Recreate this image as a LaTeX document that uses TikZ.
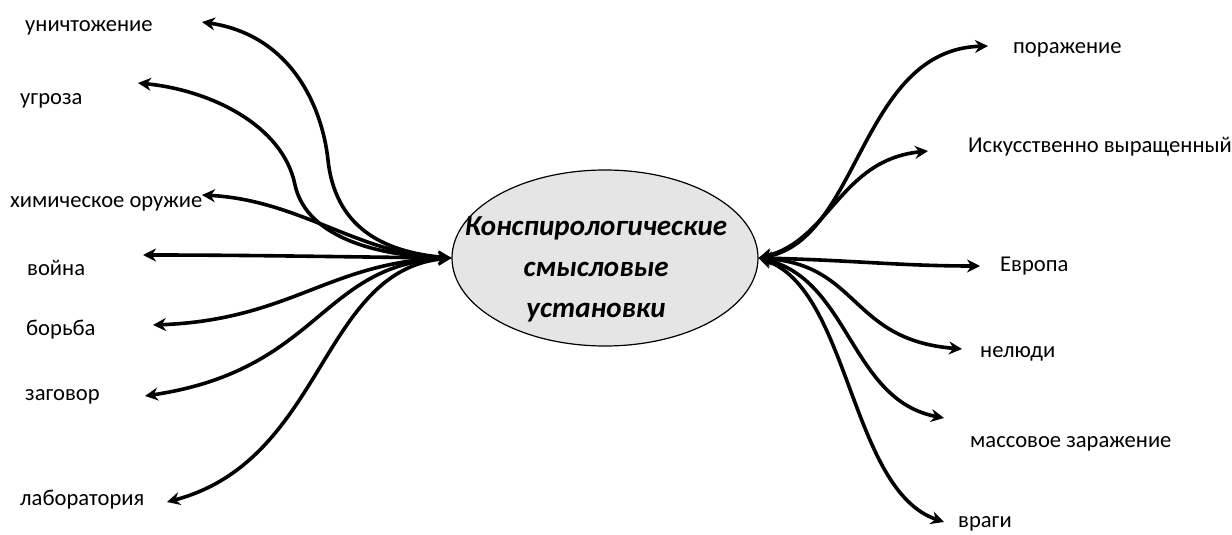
\documentclass[tikz,border=0pt]{standalone}
\usepackage{fontspec}
\setmainfont{Carlito}
\usetikzlibrary{arrows.meta,shapes.geometric}
\begin{document}
\begin{tikzpicture}[x=1pt,y=-1pt,
  lbl/.style={font=\fontsize{22.6}{26}\selectfont, inner sep=0pt, anchor=base west},
  link/.style={line width=3.6pt, {Stealth[length=13pt,width=13pt]}-{Stealth[length=13pt,width=13pt]}}]
\useasboundingbox (0,0) rectangle (1232,535);
\node[ellipse, draw, line width=1.2pt, fill=black!10, minimum width=306pt, minimum height=176pt, inner sep=0pt] (c) at (605,258) {};
\node[font=\fontsize{29}{41}\selectfont\bfseries\itshape, align=center, inner sep=0pt] (ct) at (596,269) {Конспирологические\\смысловые\\установки};
% labels
\node[lbl] (l1) at (25,32) {уничтожение};
\node[lbl] (l2) at (20,104) {угроза};
\node[lbl] (l3) at (10,207) {химическое оружие};
\node[lbl] (l4) at (27,275) {война};
\node[lbl] (l5) at (26,335) {борьба};
\node[lbl] (l6) at (25,400) {заговор};
\node[lbl] (l7) at (20,505) {лаборатория};
\node[lbl] (r1) at (1013,54) {поражение};
\node[lbl] (r2) at (968,152) {Искусственно выращенный};
\node[lbl] (r3) at (1000,271) {Европа};
\node[lbl] (r4) at (980,357) {нелюди};
\node[lbl] (r5) at (970,447) {массовое заражение};
\node[lbl] (r6) at (958,527) {враги};
% tips
\coordinate (a1) at (202,22);
\coordinate (a2) at (138,83);
\coordinate (a3) at (202,195);
\coordinate (a4) at (143,255);
\coordinate (a5) at (153,325);
\coordinate (a6) at (145,396);
\coordinate (a7) at (167,502);
\coordinate (b1) at (988,46);
\coordinate (b2) at (928,151);
\coordinate (b3) at (980,266);
\coordinate (b4) at (962,349);
\coordinate (b5) at (944,418);
\coordinate (b6) at (944,522);
% connectors
\draw[link] (c.west) .. controls (380,252) and (335,225) .. (328,160) .. controls (322,105) and (290,35) .. (a1);
\draw[link] (c.west) .. controls (360,255) and (305,230) .. (295,185) .. controls (283,125) and (210,90) .. (a2);
\draw[link] (c.west) .. controls (360,255) and (300,200) .. (a3);
\draw[link] (c.west) .. controls (350,257) and (250,255) .. (a4);
\draw[link] (c.west) .. controls (330,262) and (290,320) .. (a5);
\draw[link] (c.west) .. controls (320,265) and (320,370) .. (a6);
\draw[link] (c.west) .. controls (320,270) and (325,460) .. (a7);
\draw[link] (c.east) .. controls (860,240) and (860,50) .. (b1);
\draw[link] (c.east) .. controls (830,240) and (840,160) .. (b2);
\draw[link] (c.east) .. controls (850,260) and (900,266) .. (b3);
\draw[link] (c.east) .. controls (860,265) and (850,340) .. (b4);
\draw[link] (c.east) .. controls (850,280) and (850,400) .. (b5);
\draw[link] (c.east) .. controls (850,290) and (850,490) .. (b6);
\end{tikzpicture}
\end{document}
